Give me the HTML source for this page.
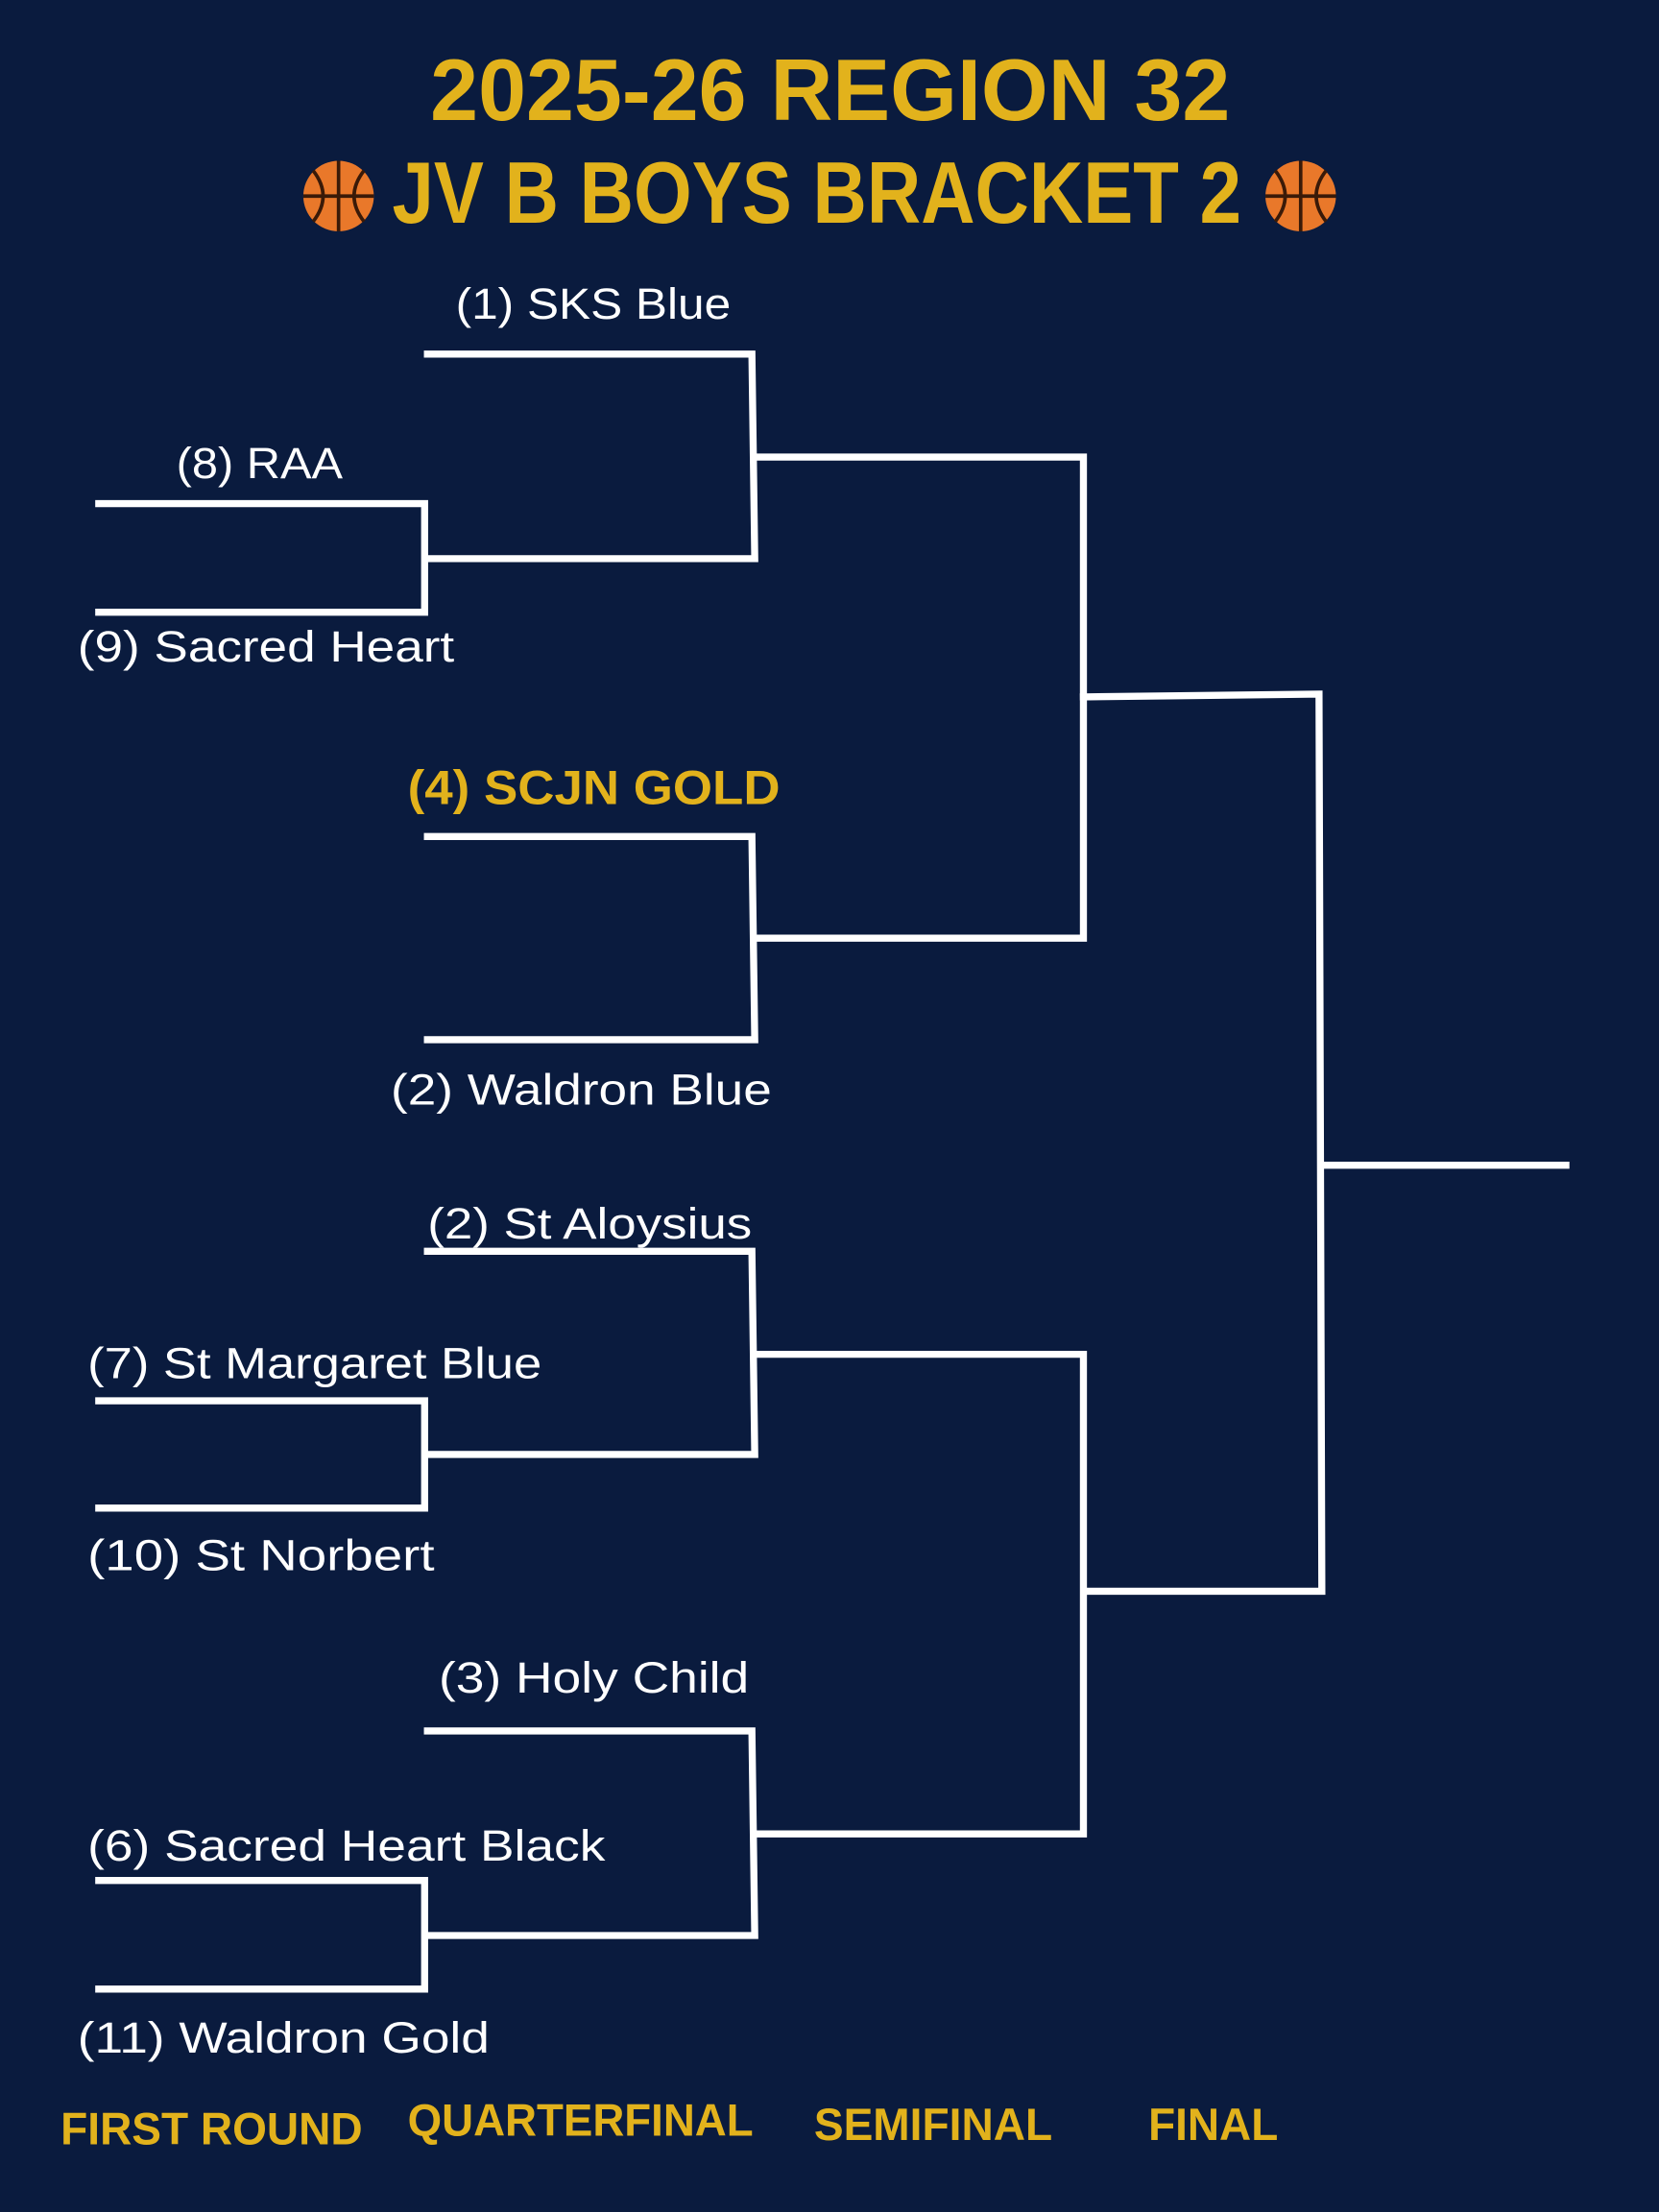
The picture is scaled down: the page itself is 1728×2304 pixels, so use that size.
<!DOCTYPE html>
<html><head><meta charset="utf-8"><style>
html,body{margin:0;padding:0;background:#0a1b3e;}
svg{display:block}
text{font-family:"Liberation Sans",sans-serif}
.w{fill:#fff;font-size:31px}
.g{fill:#e2b21c;font-weight:bold}
</style></head><body>
<svg width="1728" height="2304" viewBox="0 0 1176 1568" xmlns="http://www.w3.org/2000/svg">
<rect width="1176" height="1568" fill="#0a1b3e"/>
<text class="g" x="305" y="85" font-size="62" textLength="567" lengthAdjust="spacingAndGlyphs">2025-26 REGION 32</text>
<text class="g" x="278" y="158" font-size="62" textLength="602" lengthAdjust="spacingAndGlyphs">JV B BOYS BRACKET 2</text>
<circle cx="240" cy="139" r="25" fill="#e9782a"/>
<path d="M215,139 H265 M240,114 V164 M222,121 Q236,139 222,157 M258,121 Q244,139 258,157" stroke="#3a1a08" stroke-width="2.5" fill="none"/>
<circle cx="922" cy="139" r="25" fill="#e9782a"/>
<path d="M897,139 H947 M922,114 V164 M904,121 Q918,139 904,157 M940,121 Q926,139 940,157" stroke="#3a1a08" stroke-width="2.5" fill="none"/>
<g stroke="#fff" stroke-width="5" fill="none" stroke-linecap="square">
<path d="M303,251H533L535,396H303"/>
<path d="M70,357H301V434H70"/>
<path d="M535,324H768V665H535"/>
<path d="M303,593H533L535,737H303"/>
<path d="M768,494L935,492L937,1128H770"/>
<path d="M937,826H1110"/>
<path d="M303,887H533L535,1031H303"/>
<path d="M70,993H301V1069H70"/>
<path d="M535,960H768V1300H535"/>
<path d="M303,1227H533L535,1372H303"/>
<path d="M70,1333H301V1410H70"/>
</g>
<g class="w">
<text x="323" y="226" textLength="195" lengthAdjust="spacingAndGlyphs">(1) SKS Blue</text>
<text x="125" y="339" textLength="118" lengthAdjust="spacingAndGlyphs">(8) RAA</text>
<text x="55" y="469" textLength="267" lengthAdjust="spacingAndGlyphs">(9) Sacred Heart</text>
<text x="277" y="783" textLength="270" lengthAdjust="spacingAndGlyphs">(2) Waldron Blue</text>
<text x="303" y="878" textLength="230" lengthAdjust="spacingAndGlyphs">(2) St Aloysius</text>
<text x="62" y="977" textLength="322" lengthAdjust="spacingAndGlyphs">(7) St Margaret Blue</text>
<text x="62" y="1113" textLength="246" lengthAdjust="spacingAndGlyphs">(10) St Norbert</text>
<text x="311" y="1200" textLength="220" lengthAdjust="spacingAndGlyphs">(3) Holy Child</text>
<text x="62" y="1319" textLength="367" lengthAdjust="spacingAndGlyphs">(6) Sacred Heart Black</text>
<text x="55" y="1455" textLength="292" lengthAdjust="spacingAndGlyphs">(11) Waldron Gold</text>
</g>
<text class="g" x="289" y="570" font-size="34" textLength="264" lengthAdjust="spacingAndGlyphs">(4) SCJN GOLD</text>
<text class="g" x="43" y="1520" font-size="32" textLength="214" lengthAdjust="spacingAndGlyphs">FIRST ROUND</text>
<text class="g" x="289" y="1514" font-size="32" textLength="245" lengthAdjust="spacingAndGlyphs">QUARTERFINAL</text>
<text class="g" x="577" y="1517" font-size="32" textLength="169" lengthAdjust="spacingAndGlyphs">SEMIFINAL</text>
<text class="g" x="814" y="1517" font-size="32" textLength="92" lengthAdjust="spacingAndGlyphs">FINAL</text>
</svg>
</body></html>
